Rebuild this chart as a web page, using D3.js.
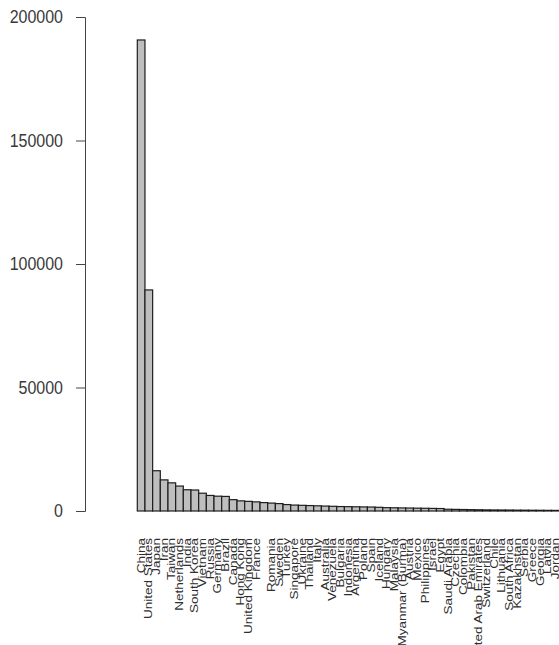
<!DOCTYPE html>
<html>
<head>
<meta charset="utf-8">
<script src="https://cdn.jsdelivr.net/npm/d3@7"></script>
<style>
  body { margin: 0; background: #fff; }
  text { font-family: "Liberation Sans", Arial, sans-serif; }
</style>
</head>
<body>
<div id="chart"></div>
<script>
var width = 559;
var height = 645;

// country names, one empty label where the reference shows none
var countries = ["China", "United States", "Japan", "Iran", "Taiwan", "Netherlands", "India",
  "South Korea", "Vietnam", "Russia", "Germany", "Brazil", "Canada", "Hong Kong",
  "United Kingdom", "France", "", "Romania", "Sweden", "Turkey", "Singapore", "Ukraine",
  "Thailand", "Italy", "Australia", "Venezuela", "Bulgaria", "Indonesia", "Argentina",
  "Poland", "Spain", "Iceland", "Hungary", "Malaysia", "Myanmar (Burma)", "Austria",
  "Mexico", "Philippines", "Israel", "Egypt", "Saudi Arabia", "Czechia", "Colombia",
  "Pakistan", "United Arab Emirates", "Switzerland", "Chile", "Lithuania", "South Africa",
  "Kazakhstan", "Serbia", "Greece", "Georgia", "Latvia", "Jordan"];

var values = [190700, 89500, 16300, 12600, 11400, 10100, 8600,
  8500, 7200, 6300, 6000, 5900, 4600, 4100,
  3900, 3700, 3400, 3200, 3000, 2600, 2400, 2300,
  2200, 2100, 2000, 1900, 1800, 1750, 1700,
  1650, 1600, 1500, 1350, 1300, 1250, 1200,
  1150, 1100, 1050, 1000, 700, 650, 600,
  550, 500, 450, 420, 400, 380,
  350, 330, 310, 290, 270, 250];

var yTicks = [0, 50000, 100000, 150000, 200000];

var svg = d3.select('#chart')
  .append('svg')
  .attr('width', width)
  .attr('height', height);

var step = 7.67;
var x = d3.scaleBand()
  .domain(d3.range(countries.length))
  .range([137.3, 137.3 + countries.length * step])
  .padding(0);

var y = d3.scaleLinear().domain([0, 200000]).range([511, 17]);

// bars
svg.selectAll('.bar')
  .data(values)
  .enter()
  .append('rect')
  .attr('class', 'bar')
  .attr('x', (d, i) => x(i))
  .attr('y', d => y(d))
  .attr('width', x.bandwidth())
  .attr('height', d => y(0) - y(d))
  .attr('fill', '#bebebe')
  .attr('stroke', '#1e1e1e')
  .attr('stroke-width', 1.2);

// y axis
var yAxis = d3.axisLeft(y).tickValues(yTicks).tickSize(9).tickPadding(13).tickFormat(d3.format('d'));
var yAxisGroup = svg.append('g')
  .attr('transform', 'translate(85,0)')
  .call(yAxis);
yAxisGroup.select('.domain').attr('stroke', '#444');
yAxisGroup.selectAll('.tick line').attr('stroke', '#444');
yAxisGroup.selectAll('.tick text')
  .attr('fill', '#3a3a3a')
  .attr('transform', 'scale(1,1.12)')
  .style('font-size', '16px')
  .style('font-family', '"Liberation Sans", Arial, sans-serif');

// country labels, vertical (stretched along their length like the reference)
svg.selectAll('.lab')
  .data(countries)
  .enter()
  .append('text')
  .attr('class', 'lab')
  .attr('transform', (d, i) => 'translate(' + (x(i) + x.bandwidth() / 2 + 3.6) + ',538) rotate(-90) scale(1.35,1)')
  .attr('text-anchor', 'end')
  .attr('fill', '#2e2e2e')
  .style('font-size', '10px')
  .text(d => d);
</script>
</body>
</html>
